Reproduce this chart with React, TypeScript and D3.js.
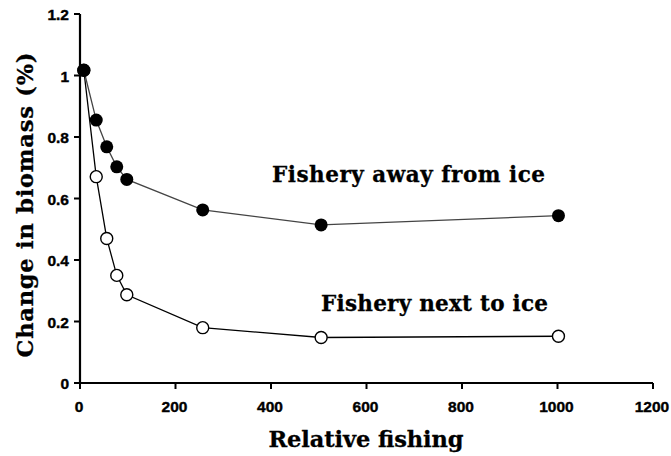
import React from "react";
import * as d3 from "d3";

// Relative fishing effort at which biomass change was evaluated
const fishing = [8, 34, 56, 77, 98, 257, 505, 1002];
// Proportional change in biomass for each fishery location
const awayFromIce = [1.017, 0.855, 0.768, 0.703, 0.662, 0.563, 0.514, 0.544];
const nextToIce = [1.017, 0.671, 0.47, 0.35, 0.287, 0.18, 0.148, 0.152];

const xTicks = [0, 200, 400, 600, 800, 1000, 1200];
const yTicks = [0, 0.2, 0.4, 0.6, 0.8, 1, 1.2];

const W = 671;
const H = 456;

const serif = "'DejaVu Serif', serif";
const sans = "'Liberation Sans', Arial, sans-serif";

export default function App() {
  const x = d3.scaleLinear().domain([0, 1200]).range([80, 653]);
  const y = d3.scaleLinear().domain([0, 1.2]).range([383, 14]);

  const line = d3
    .line<[number, number]>()
    .x((d) => x(d[0]))
    .y((d) => y(d[1]));

  const awayPts = fishing.map((f, i) => [f, awayFromIce[i]] as [number, number]);
  const nextPts = fishing.map((f, i) => [f, nextToIce[i]] as [number, number]);

  const tickText = {
    fontFamily: sans,
    fontWeight: 700,
    fontSize: 15.5,
    stroke: "#000",
    strokeWidth: 0.4,
  };
  const titleText = {
    fontFamily: serif,
    fontWeight: 700,
    stroke: "#000",
    strokeWidth: 0.3,
  };

  return (
    <svg
      width={W}
      height={H}
      style={{ position: "absolute", left: 0, top: 0, background: "#fff" }}
    >
      {/* axes */}
      <line x1={x(0)} x2={x(1200)} y1={y(0)} y2={y(0)} stroke="#000" strokeWidth={2.2} />
      <line x1={x(0)} x2={x(0)} y1={y(0) + 1} y2={y(1.2)} stroke="#000" strokeWidth={2.2} />
      {xTicks.map((t) => (
        <g key={"x" + t}>
          <line x1={x(t)} x2={x(t)} y1={y(0)} y2={y(0) + 6} stroke="#000" strokeWidth={2} />
          <text x={x(t) - 1} y={412} textAnchor="middle" {...tickText}>
            {String(t)}
          </text>
        </g>
      ))}
      {yTicks.map((t) => (
        <g key={"y" + t}>
          <line x1={x(0) - 6} x2={x(0)} y1={y(t)} y2={y(t)} stroke="#000" strokeWidth={2} />
          <text x={69} y={y(t) + 6} textAnchor="end" {...tickText}>
            {String(t)}
          </text>
        </g>
      ))}

      {/* axis titles */}
      <text
        x={366}
        y={447}
        textAnchor="middle"
        fontSize={22.5}
        textLength={195}
        lengthAdjust="spacing"
        {...titleText}
      >
        Relative fishing
      </text>
      <text
        transform={`translate(33, 205) rotate(-90)`}
        textAnchor="middle"
        fontSize={22.5}
        textLength={305}
        lengthAdjust="spacing"
        {...titleText}
      >
        Change in biomass (%)
      </text>

      {/* series lines */}
      <path d={line(nextPts) ?? ""} fill="none" stroke="#000" strokeWidth={1.3} />
      <path d={line(awayPts) ?? ""} fill="none" stroke="#444" strokeWidth={1.3} />

      {/* markers */}
      {nextPts.map((p, i) => (
        <circle
          key={"n" + i}
          cx={x(p[0])}
          cy={y(p[1])}
          r={6}
          fill="#fff"
          stroke="#000"
          strokeWidth={1.4}
        />
      ))}
      {awayPts.map((p, i) => (
        <circle key={"a" + i} cx={x(p[0])} cy={y(p[1])} r={6.5} fill="#000" />
      ))}

      {/* series labels */}
      <text
        x={272}
        y={182}
        fontSize={21.5}
        textLength={273}
        lengthAdjust="spacing"
        {...titleText}
      >
        Fishery away from ice
      </text>
      <text
        x={321}
        y={311}
        fontSize={21.5}
        textLength={227}
        lengthAdjust="spacing"
        {...titleText}
      >
        Fishery next to ice
      </text>
    </svg>
  );
}
